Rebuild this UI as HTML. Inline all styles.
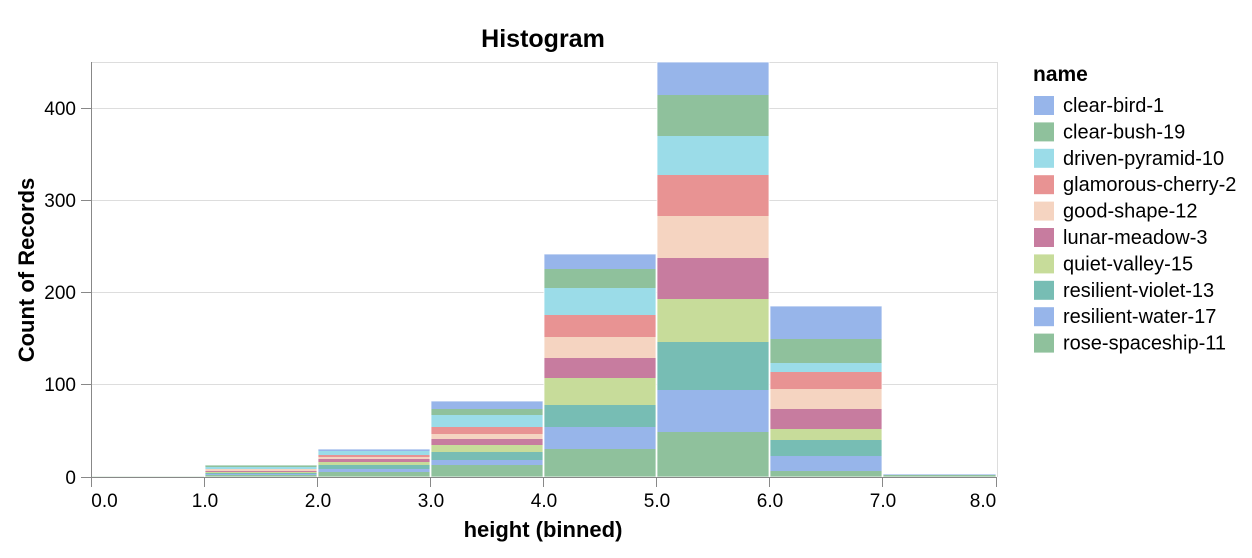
<!DOCTYPE html>
<html><head><meta charset="utf-8"><style>body{margin:0;background:#fff}svg{display:block;font-family:"Liberation Sans",Arial,sans-serif}</style></head>
<body>
<svg width="1252" height="558" viewBox="0 0 1252 558">
<g stroke="#ddd" stroke-width="1">
<line x1="91" x2="997" y1="62.5" y2="62.5"/>
<line x1="91" x2="997" y1="108.5" y2="108.5"/>
<line x1="91" x2="997" y1="200.5" y2="200.5"/>
<line x1="91" x2="997" y1="292.5" y2="292.5"/>
<line x1="91" x2="997" y1="384.5" y2="384.5"/>
<line x1="997.5" x2="997.5" y1="62" y2="477"/>
</g>
<g id="bars" stroke="#fff" stroke-width="1"></g>
<g stroke="#888" stroke-width="1">
<line x1="91" x2="997" y1="477.5" y2="477.5"/>
<line x1="91.5" x2="91.5" y1="62" y2="477"/>
<line x1="81" x2="91" y1="108.5" y2="108.5"/><line x1="81" x2="91" y1="200.5" y2="200.5"/><line x1="81" x2="91" y1="292.5" y2="292.5"/><line x1="81" x2="91" y1="384.5" y2="384.5"/><line x1="81" x2="91" y1="477.5" y2="477.5"/>
<line x1="91.5" x2="91.5" y1="477" y2="487"/><line x1="204.5" x2="204.5" y1="477" y2="487"/><line x1="317.5" x2="317.5" y1="477" y2="487"/><line x1="430.5" x2="430.5" y1="477" y2="487"/><line x1="543.5" x2="543.5" y1="477" y2="487"/><line x1="656.5" x2="656.5" y1="477" y2="487"/><line x1="769.5" x2="769.5" y1="477" y2="487"/><line x1="882.5" x2="882.5" y1="477" y2="487"/><line x1="996.5" x2="996.5" y1="477" y2="487"/>
</g>
<g font-size="19" fill="#000" text-anchor="end">
<text x="76" y="115">400</text><text x="76" y="207">300</text><text x="76" y="299">200</text><text x="76" y="391">100</text><text x="76" y="484">0</text>
</g>
<g font-size="19" fill="#000" text-anchor="middle">
<text x="104.5" y="507">0.0</text><text x="205" y="507">1.0</text><text x="318" y="507">2.0</text><text x="431" y="507">3.0</text><text x="544" y="507">4.0</text><text x="657" y="507">5.0</text><text x="770" y="507">6.0</text><text x="883" y="507">7.0</text><text x="983" y="507">8.0</text>
</g>
<text x="543" y="537" font-size="22" font-weight="bold" text-anchor="middle">height (binned)</text>
<text transform="translate(34,270) rotate(-90)" font-size="22" font-weight="bold" text-anchor="middle">Count of Records</text>
<text x="543" y="47" font-size="25" font-weight="bold" text-anchor="middle">Histogram</text>
<text x="1033" y="81" font-size="21" font-weight="bold">name</text>
<g id="legend" font-size="20"></g>
</svg>
<script>
var C={bird:"#97b5ea",bush:"#8fc19c",drv:"#9bdce8",cher:"#e89393",good:"#f5d4c1",lun:"#c77c9f",qv:"#c7dc9a",vio:"#77bdb4",wat:"#97b5ea",rose:"#8fc19c"};
var order=["bird","bush","drv","cher","good","lun","qv","vio","wat","rose"];
var bins=[
[91,204,[476,476,476,476,476,476,476,476,476,476,477]],
[205,317,[465,465,467,469,469,471,472,473,474,475,477]],
[318,430,[449,451,451,455,457,459,462,465,469,472,477]],
[431,543,[401,409,415,427,434,439,445,452,460,465,477]],
[544,656,[254,269,288,315,337,358,378,405,427,449,477]],
[657,769,[62,95,136,175,216,258,299,342,390,432,477]],
[770,882,[306,339,363,372,389,409,429,440,456,471,477]],
[883,996,[474,475,475,475,475,475,475,475,475,475,477]]];
var ns="http://www.w3.org/2000/svg",g=document.getElementById("bars");
bins.forEach(function(b){var y=b[2];for(var i=0;i<10;i++){var h=y[i+1]-y[i];if(h<=0)continue;var r=document.createElementNS(ns,"rect");r.setAttribute("x",b[0]);r.setAttribute("width",b[1]-b[0]);r.setAttribute("y",y[i]);r.setAttribute("height",h);r.setAttribute("fill",C[order[i]]);r.setAttribute("stroke","none");g.appendChild(r);}
var o=document.createElementNS(ns,"rect");o.setAttribute("x",b[0]);o.setAttribute("width",b[1]-b[0]);o.setAttribute("y",y[0]);o.setAttribute("height",477-y[0]);o.setAttribute("fill","none");o.setAttribute("stroke","#fff");o.setAttribute("stroke-opacity","0.8");g.appendChild(o);});
var names=["clear-bird-1","clear-bush-19","driven-pyramid-10","glamorous-cherry-2","good-shape-12","lunar-meadow-3","quiet-valley-15","resilient-violet-13","resilient-water-17","rose-spaceship-11"];
var L=document.getElementById("legend");
names.forEach(function(n,i){var cy=105+i*26.4;var r=document.createElementNS(ns,"rect");r.setAttribute("x",1034);r.setAttribute("y",cy-9);r.setAttribute("width",20);r.setAttribute("height",19);r.setAttribute("fill",C[order[i]]);L.appendChild(r);var t=document.createElementNS(ns,"text");t.setAttribute("x",1063);t.setAttribute("y",cy+7);t.textContent=n;L.appendChild(t);});
</script>
</body></html>
